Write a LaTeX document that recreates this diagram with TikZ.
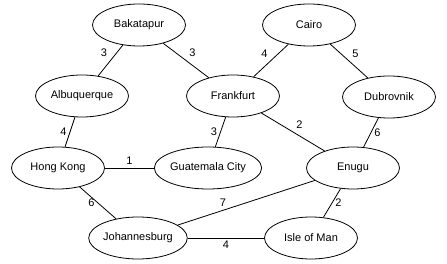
\documentclass[tikz,border=0pt]{standalone}
\usepackage{fontspec}
\setmainfont{Liberation Sans}
\usetikzlibrary{shapes.geometric}
\begin{document}
\begin{tikzpicture}[x=1pt,y=-1pt,
  city/.style={ellipse,draw,line width=0.8pt,minimum width=93pt,minimum height=42pt,inner sep=0pt,font=\fontsize{11}{13}\selectfont},
  road/.style={draw,line width=0.8pt},
  lbl/.style={font=\fontsize{11}{13}\selectfont,inner sep=3pt}]
\useasboundingbox (0,0) rectangle (447,264);
\node[city] (bak) at (139,25) {Bakatapur};
\node[city] (cai) at (309,25) {Cairo};
\node[city] (alb) at (82,96) {Albuquerque};
\node[city] (fra) at (233,96) {Frankfurt};
\node[city] (dub) at (389,97) {Dubrovnik};
\node[city] (hk) at (58,168) {Hong Kong};
\node[city] (gua) at (208,168) {Guatemala City};
\node[city] (enu) at (353,168) {Enugu};
\node[city] (joh) at (138,238) {Johannesburg};
\node[city] (iom) at (311,238) {Isle of Man};
\draw[road] (bak) -- node[lbl,above left] {3} (alb);
\draw[road] (bak) -- node[lbl,above right] {3} (fra);
\draw[road] (cai) -- node[lbl,above left] {4} (fra);
\draw[road] (cai) -- node[lbl,above right] {5} (dub);
\draw[road] (alb) -- node[lbl,left] {4} (hk);
\draw[road] (fra) -- node[lbl,left] {3} (gua);
\draw[road] (fra) -- node[lbl,above right] {2} (enu);
\draw[road] (dub) -- node[lbl,right] {6} (enu);
\draw[road] (hk) -- node[lbl,above] {1} (gua);
\draw[road] (hk) -- node[lbl,left] {6} (joh);
\draw[road] (joh) -- node[lbl,above,pos=0.33] {7} (enu);
\draw[road] (enu) -- node[lbl,right] {2} (iom);
\draw[road] (joh) -- node[lbl,below] {4} (iom);
\end{tikzpicture}
\end{document}
